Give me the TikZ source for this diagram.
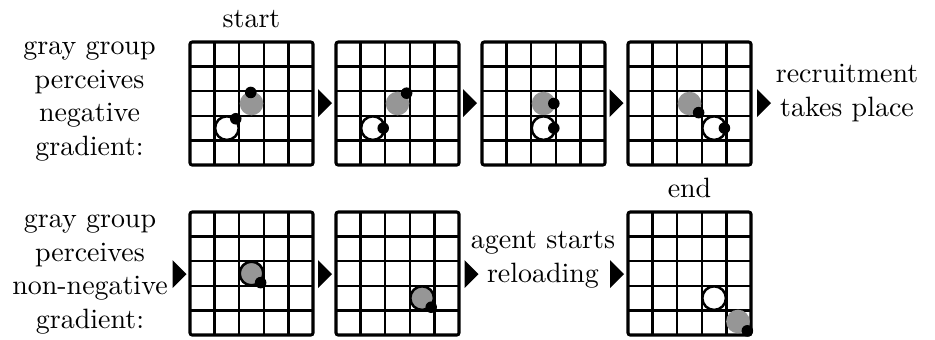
\documentclass[tikz,border=0pt]{standalone}
\begin{document}
% one unit = one pixel of a 935 x 339 canvas, y running downwards
\definecolor{agentgray}{RGB}{150,150,150}
\tikzset{
  gridline/.style={line width=0.9pt},
  frame/.style={line width=1.1pt, rounded corners=0.8pt},
  grayagent/.style={fill=agentgray},
  grayring/.style={fill=agentgray, draw=black, line width=0.9pt},
  whiteagent/.style={fill=white, draw=black, line width=0.9pt},
  carried/.style={fill=black},
  caption/.style={align=center, anchor=north, inner sep=0pt},
  board/.pic={
    \foreach \k in {1,...,4} {
      \draw[gridline] (\k,0) -- (\k,5);
      \draw[gridline] (0,\k) -- (5,\k);
    }
    \draw[frame] (0,0) rectangle (5,5);
  },
  pointer/.pic={
    \fill (0,-14) -- (14,0) -- (0,14) -- cycle;
  },
  cellunits/.style={x=8.8pt, y=-8.8pt}
}
\begin{tikzpicture}[x=0.3577pt, y=-0.3577pt]
\useasboundingbox (0,0) rectangle (935,339);

% ---- top row: negative gradient ----
\node[caption] (lblNeg) at (89.5,30.5)
  {\strut gray group\\perceives\\negative\\gradient:};
\node[anchor=base] (lblStart) at (251.5,27) {start};

\begin{scope}[shift={(190,42)}, cellunits]
  \pic {board};
  \fill[grayagent] (2.5,2.5) circle[radius=0.48];
  \draw[whiteagent] (1.5,3.5) circle[radius=0.48];
  \fill[carried] (2.47,2.05) circle[radius=0.235];
  \fill[carried] (1.86,3.12) circle[radius=0.235];
\end{scope}
\pic at (318,103) {pointer};

\begin{scope}[shift={(336,42)}, cellunits]
  \pic {board};
  \fill[grayagent] (2.5,2.5) circle[radius=0.48];
  \draw[whiteagent] (1.5,3.5) circle[radius=0.48];
  \fill[carried] (2.87,2.08) circle[radius=0.235];
  \fill[carried] (1.92,3.5) circle[radius=0.235];
\end{scope}
\pic at (463,103) {pointer};

\begin{scope}[shift={(482,42)}, cellunits]
  \pic {board};
  \fill[grayagent] (2.5,2.5) circle[radius=0.48];
  \draw[whiteagent] (2.5,3.5) circle[radius=0.48];
  \fill[carried] (2.92,2.5) circle[radius=0.235];
  \fill[carried] (2.92,3.5) circle[radius=0.235];
\end{scope}
\pic at (609.5,103) {pointer};

\begin{scope}[shift={(628,42)}, cellunits]
  \pic {board};
  \fill[grayagent] (2.5,2.5) circle[radius=0.48];
  \draw[whiteagent] (3.5,3.5) circle[radius=0.48];
  \fill[carried] (2.87,2.87) circle[radius=0.235];
  \fill[carried] (3.92,3.5) circle[radius=0.235];
\end{scope}
\pic at (757,103) {pointer};

\node[caption] (lblRecruit) at (847,58.5) {\strut recruitment\\takes place};

% ---- bottom row: non-negative gradient ----
\node[caption] (lblNonneg) at (90,203.5)
  {\strut gray group\\perceives\\non-negative\\gradient:};
\pic at (172.5,274) {pointer};

\begin{scope}[shift={(190,212)}, cellunits]
  \pic {board};
  \draw[grayring] (2.5,2.5) circle[radius=0.48];
  \fill[carried] (2.87,2.87) circle[radius=0.235];
\end{scope}
\pic at (318,274) {pointer};

\begin{scope}[shift={(336,212)}, cellunits]
  \pic {board};
  \draw[grayring] (3.5,3.5) circle[radius=0.48];
  \fill[carried] (3.87,3.87) circle[radius=0.235];
\end{scope}
\pic at (464.5,274) {pointer};

\node[caption] (lblReload) at (543,224.5) {\strut agent starts\\reloading};
\pic at (610,274) {pointer};

\node[anchor=base] (lblEnd) at (689.5,197) {end};
\begin{scope}[shift={(628,212)}, cellunits]
  \pic {board};
  \draw[whiteagent] (3.5,3.5) circle[radius=0.48];
  \fill[grayagent] (4.47,4.45) circle[radius=0.48];
  \fill[carried] (4.85,4.83) circle[radius=0.235];
\end{scope}
\end{tikzpicture}
\end{document}
